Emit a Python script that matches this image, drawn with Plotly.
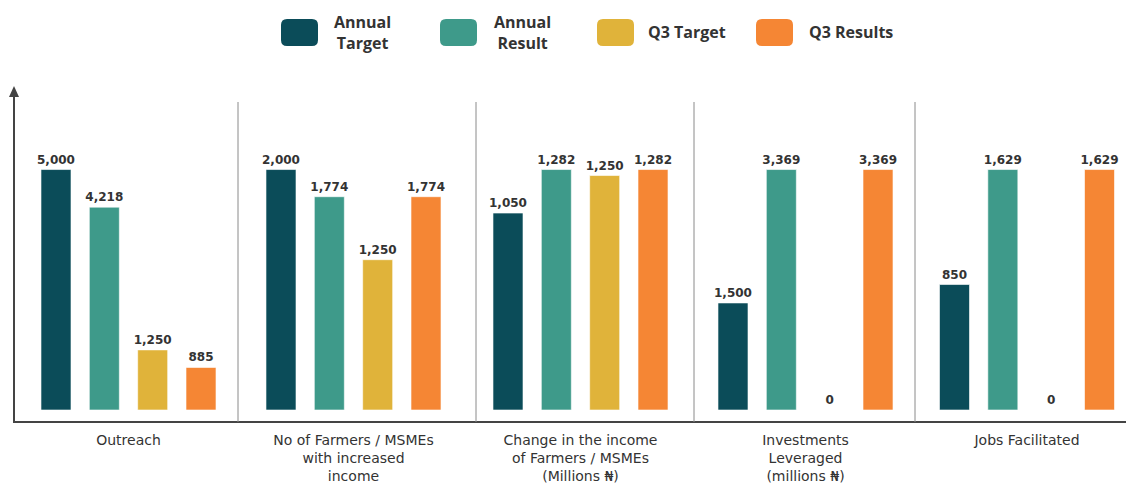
import plotly.graph_objects as go

# ---------------- data ----------------
categories = [
    "Outreach",
    "No of Farmers / MSMEs<br>with increased<br>income",
    "Change in the income<br>of Farmers / MSMEs<br>(Millions ₦)",
    "Investments<br>Leveraged<br>(millions ₦)",
    "Jobs Facilitated",
]
series_names = ["Annual Target", "Annual Result", "Q3 Target", "Q3 Results"]
legend_labels = ["Annual<br>Target", "Annual<br>Result", "Q3 Target", "Q3 Results"]
annual_target = [5000, 2000, 1050, 1500, 850]
annual_result = [4218, 1774, 1282, 3369, 1629]
q3_target = [1250, 1250, 1250, 0, 0]
q3_results = [885, 1774, 1282, 3369, 1629]

# ---------------- styling ----------------
colors = ["#0B4C59", "#3E9A8A", "#E0B33A", "#F58634"]
OFF = 8                      # page body margin
W, H = 1134 - OFF, 485 - OFF
TEXT = "#333333"


def px(x):
    return (x - OFF) / W


def py(y):
    return 1 - (y - OFF) / H


series = [annual_target, annual_result, q3_target, q3_results]
centers = [128.5, 353.5, 580.5, 805.5, 1027]
D = 212
y_bottom, y_top = 410, 95

fig = go.Figure()
layout = {}
for i, cat in enumerate(categories):
    k = "" if i == 0 else str(i + 1)
    for j, name in enumerate(series_names):
        fig.add_trace(go.Bar(
            x=[cat], y=[series[j][i]], name=name,
            marker=dict(color=colors[j], line=dict(color="rgba(255,255,255,0.6)", width=1)),
            texttemplate="%{y:,}", textposition="outside", constraintext="none",
            textfont=dict(family="DejaVu Sans", size=12, color=TEXT, weight="bold"),
            cliponaxis=False, showlegend=False, legendgroup=name,
            xaxis="x" + k, yaxis="y" + k,
        ))
    pmax = max(s[i] for s in series)
    layout["xaxis" + k] = dict(
        domain=[px(centers[i] - D / 2), min(1.0, px(centers[i] + D / 2))],
        anchor="y" + k, type="category", range=[-0.5, 0.5],
        showgrid=False, zeroline=False, showline=False, ticks="",
        tickfont=dict(family="DejaVu Sans", size=14, color=TEXT),
        ticklabelstandoff=20, automargin=False, fixedrange=True,
    )
    layout["yaxis" + k] = dict(
        domain=[py(y_bottom), py(y_top)], anchor="x" + k,
        range=[0, pmax * 1.31], visible=False, automargin=False, fixedrange=True,
    )

shapes = []
# axes
shapes.append(dict(type="line", xref="paper", yref="paper", x0=px(14), x1=px(14),
                   y0=py(422), y1=py(92), line=dict(color="#444444", width=2)))
shapes.append(dict(type="path", xref="paper", yref="paper",
                   path=f"M {px(14)},{py(86)} L {px(9)},{py(97)} L {px(19)},{py(97)} Z",
                   fillcolor="#444444", line=dict(width=0)))
shapes.append(dict(type="line", xref="paper", yref="paper", x0=px(13), x1=1.0,
                   y0=py(422), y1=py(422), line=dict(color="#444444", width=2)))
# separators
for sx in [238, 476, 694, 915]:
    shapes.append(dict(type="line", xref="paper", yref="paper", x0=px(sx), x1=px(sx),
                       y0=py(422), y1=py(102), line=dict(color="#8a8a8a", width=1)))

# legend (custom rounded swatches)
sw_x = [281, 440, 597, 756]
annotations = []
text_x = [363, 522, 646, 807]
for j in range(4):
    x0, x1, y0, y1, r = sw_x[j], sw_x[j] + 37, 19, 46, 6
    path = (f"M {px(x0 + r)},{py(y0)} L {px(x1 - r)},{py(y0)} "
            f"Q {px(x1)},{py(y0)} {px(x1)},{py(y0 + r)} L {px(x1)},{py(y1 - r)} "
            f"Q {px(x1)},{py(y1)} {px(x1 - r)},{py(y1)} L {px(x0 + r)},{py(y1)} "
            f"Q {px(x0)},{py(y1)} {px(x0)},{py(y1 - r)} L {px(x0)},{py(y0 + r)} "
            f"Q {px(x0)},{py(y0)} {px(x0 + r)},{py(y0)} Z")
    shapes.append(dict(type="path", xref="paper", yref="paper", path=path,
                       fillcolor=colors[j], line=dict(width=0)))
    annotations.append(dict(
        x=px(text_x[j]), y=py(32.5), xref="paper", yref="paper",
        text=legend_labels[j], showarrow=False,
        xanchor="center" if j < 2 else "left", yanchor="middle",
        font=dict(family="Open Sans", size=16, color=TEXT, weight="bold"),
    ))

fig.update_layout(
    width=W, height=H, margin=dict(l=0, r=0, t=0, b=0, autoexpand=False),
    paper_bgcolor="white", plot_bgcolor="white",
    barmode="group", bargap=0.088, bargroupgap=0.379,
    showlegend=False, shapes=shapes, annotations=annotations,
    **layout,
)

fig.write_html("out.html")
